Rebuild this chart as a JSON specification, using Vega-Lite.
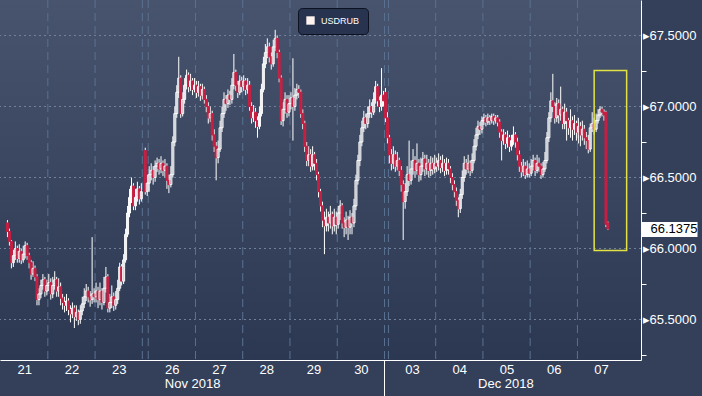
{
"$schema": "https://vega.github.io/schema/vega-lite/v6.json",
"width": 641, "height": 360,
"autosize": {"type": "none"},
"padding": {"left": 0, "top": 0, "right": 61, "bottom": 36},
"background": "#34405a",
"config": {
 "view": {"stroke": null},
 "axis": {"labelFont": "Liberation Sans", "labelFontSize": 13, "labelColor": "#ffffff", "title": null, "domainColor": "#ffffff", "domainWidth": 1, "grid": false}
},
"datasets": {
 "candles": [
{"t":3,"o":66.18,"h":66.2,"l":66.08,"c":66.12},
{"t":4,"o":66.12,"h":66.14,"l":66.02,"c":66.05},
{"t":5,"o":66.05,"h":66.06,"l":65.86,"c":65.9},
{"t":6,"o":65.9,"h":65.99,"l":65.87,"c":65.95},
{"t":7,"o":65.95,"h":66.05,"l":65.92,"c":66.0},
{"t":8,"o":66.0,"h":66.02,"l":65.9,"c":65.93},
{"t":9,"o":65.93,"h":66.03,"l":65.9,"c":65.98},
{"t":10,"o":65.98,"h":66.0,"l":65.89,"c":65.92},
{"t":11,"o":65.92,"h":66.02,"l":65.9,"c":65.96},
{"t":12,"o":65.96,"h":66.05,"l":65.93,"c":66.02},
{"t":13,"o":66.02,"h":66.04,"l":65.92,"c":65.95},
{"t":14,"o":65.95,"h":65.97,"l":65.86,"c":65.9},
{"t":15,"o":65.9,"h":65.92,"l":65.78,"c":65.82},
{"t":16,"o":65.82,"h":65.91,"l":65.8,"c":65.86},
{"t":17,"o":65.86,"h":65.88,"l":65.77,"c":65.8},
{"t":18,"o":65.8,"h":65.82,"l":65.6,"c":65.64},
{"t":19,"o":65.64,"h":65.72,"l":65.6,"c":65.68},
{"t":20,"o":65.68,"h":65.78,"l":65.65,"c":65.74},
{"t":21,"o":65.74,"h":65.82,"l":65.71,"c":65.78},
{"t":22,"o":65.78,"h":65.8,"l":65.66,"c":65.7},
{"t":23,"o":65.7,"h":65.78,"l":65.67,"c":65.74},
{"t":24,"o":65.74,"h":65.82,"l":65.7,"c":65.76},
{"t":25,"o":65.76,"h":65.79,"l":65.64,"c":65.68},
{"t":26,"o":65.68,"h":65.8,"l":65.65,"c":65.74},
{"t":27,"o":65.74,"h":65.84,"l":65.71,"c":65.78},
{"t":28,"o":65.78,"h":65.8,"l":65.66,"c":65.7},
{"t":29,"o":65.7,"h":65.79,"l":65.66,"c":65.73},
{"t":30,"o":65.73,"h":65.76,"l":65.6,"c":65.65},
{"t":31,"o":65.65,"h":65.68,"l":65.57,"c":65.62},
{"t":32,"o":65.62,"h":65.66,"l":65.55,"c":65.6},
{"t":33,"o":65.6,"h":65.68,"l":65.56,"c":65.63},
{"t":34,"o":65.63,"h":65.65,"l":65.53,"c":65.57},
{"t":35,"o":65.57,"h":65.6,"l":65.48,"c":65.54},
{"t":36,"o":65.54,"h":65.62,"l":65.51,"c":65.58},
{"t":37,"o":65.58,"h":65.6,"l":65.44,"c":65.52},
{"t":38,"o":65.52,"h":65.6,"l":65.49,"c":65.55},
{"t":39,"o":65.55,"h":65.57,"l":65.46,"c":65.5},
{"t":40,"o":65.5,"h":65.6,"l":65.47,"c":65.56},
{"t":41,"o":65.56,"h":65.66,"l":65.53,"c":65.61},
{"t":42,"o":65.61,"h":65.72,"l":65.58,"c":65.66},
{"t":43,"o":65.66,"h":65.75,"l":65.63,"c":65.7},
{"t":44,"o":65.7,"h":65.73,"l":65.62,"c":65.66},
{"t":45,"o":65.66,"h":65.7,"l":65.59,"c":65.64},
{"t":46,"o":65.64,"h":66.08,"l":65.61,"c":65.68},
{"t":47,"o":65.68,"h":65.72,"l":65.62,"c":65.66},
{"t":48,"o":65.66,"h":65.76,"l":65.62,"c":65.7},
{"t":49,"o":65.7,"h":65.73,"l":65.58,"c":65.64},
{"t":50,"o":65.64,"h":65.76,"l":65.6,"c":65.7},
{"t":51,"o":65.7,"h":65.72,"l":65.57,"c":65.62},
{"t":52,"o":65.62,"h":65.8,"l":65.6,"c":65.72},
{"t":53,"o":65.72,"h":65.87,"l":65.69,"c":65.8},
{"t":54,"o":65.8,"h":65.82,"l":65.55,"c":65.58},
{"t":55,"o":65.58,"h":65.68,"l":65.55,"c":65.62},
{"t":56,"o":65.62,"h":65.74,"l":65.58,"c":65.66},
{"t":57,"o":65.66,"h":65.69,"l":65.56,"c":65.6},
{"t":58,"o":65.6,"h":65.7,"l":65.57,"c":65.64},
{"t":59,"o":65.64,"h":65.78,"l":65.61,"c":65.72},
{"t":60,"o":65.72,"h":65.9,"l":65.7,"c":65.87},
{"t":61,"o":65.87,"h":65.89,"l":65.74,"c":65.77},
{"t":62,"o":65.77,"h":65.96,"l":65.75,"c":65.92},
{"t":63,"o":65.92,"h":66.14,"l":65.9,"c":66.1},
{"t":64,"o":66.1,"h":66.3,"l":66.08,"c":66.25},
{"t":65,"o":66.25,"h":66.42,"l":66.22,"c":66.36},
{"t":66,"o":66.36,"h":66.5,"l":66.32,"c":66.44},
{"t":67,"o":66.44,"h":66.46,"l":66.27,"c":66.3},
{"t":68,"o":66.3,"h":66.42,"l":66.27,"c":66.36},
{"t":69,"o":66.36,"h":66.47,"l":66.33,"c":66.42},
{"t":70,"o":66.42,"h":66.44,"l":66.31,"c":66.35},
{"t":71,"o":66.35,"h":66.46,"l":66.33,"c":66.4},
{"t":73,"o":66.69,"h":66.71,"l":66.38,"c":66.4},
{"t":74,"o":66.4,"h":66.52,"l":66.37,"c":66.46},
{"t":75,"o":66.46,"h":66.58,"l":66.4,"c":66.52},
{"t":76,"o":66.52,"h":66.6,"l":66.48,"c":66.55},
{"t":77,"o":66.55,"h":66.58,"l":66.45,"c":66.5},
{"t":78,"o":66.5,"h":66.62,"l":66.47,"c":66.58},
{"t":79,"o":66.58,"h":66.64,"l":66.54,"c":66.6},
{"t":80,"o":66.6,"h":66.63,"l":66.52,"c":66.56},
{"t":81,"o":66.56,"h":66.65,"l":66.53,"c":66.6},
{"t":82,"o":66.6,"h":66.62,"l":66.51,"c":66.55},
{"t":83,"o":66.55,"h":66.63,"l":66.5,"c":66.58},
{"t":84,"o":66.58,"h":66.6,"l":66.42,"c":66.48},
{"t":85,"o":66.48,"h":66.52,"l":66.39,"c":66.45},
{"t":86,"o":66.45,"h":66.58,"l":66.43,"c":66.52},
{"t":87,"o":66.52,"h":66.79,"l":66.5,"c":66.75},
{"t":88,"o":66.75,"h":67.0,"l":66.72,"c":66.95},
{"t":89,"o":66.95,"h":67.15,"l":66.92,"c":67.1},
{"t":90,"o":67.1,"h":67.35,"l":67.06,"c":67.2},
{"t":91,"o":67.2,"h":67.22,"l":66.92,"c":66.95},
{"t":92,"o":66.95,"h":67.1,"l":66.93,"c":67.05},
{"t":93,"o":67.05,"h":67.2,"l":67.02,"c":67.15},
{"t":94,"o":67.15,"h":67.26,"l":67.12,"c":67.22},
{"t":95,"o":67.22,"h":67.24,"l":67.1,"c":67.14},
{"t":96,"o":67.14,"h":67.23,"l":67.11,"c":67.18},
{"t":97,"o":67.18,"h":67.2,"l":67.08,"c":67.12},
{"t":98,"o":67.12,"h":67.2,"l":67.1,"c":67.15},
{"t":99,"o":67.15,"h":67.18,"l":67.06,"c":67.1},
{"t":100,"o":67.1,"h":67.18,"l":67.07,"c":67.14},
{"t":101,"o":67.14,"h":67.16,"l":67.04,"c":67.08},
{"t":102,"o":67.08,"h":67.16,"l":67.05,"c":67.12},
{"t":103,"o":67.12,"h":67.14,"l":67.02,"c":67.05},
{"t":104,"o":67.05,"h":67.08,"l":66.96,"c":67.0},
{"t":105,"o":67.0,"h":67.03,"l":66.88,"c":66.92},
{"t":106,"o":66.92,"h":67.0,"l":66.89,"c":66.95},
{"t":107,"o":66.95,"h":66.97,"l":66.76,"c":66.8},
{"t":108,"o":66.8,"h":66.84,"l":66.68,"c":66.72},
{"t":109,"o":66.72,"h":66.75,"l":66.48,"c":66.64},
{"t":110,"o":66.64,"h":66.76,"l":66.6,"c":66.7},
{"t":111,"o":66.7,"h":66.9,"l":66.68,"c":66.85},
{"t":112,"o":66.85,"h":67.0,"l":66.82,"c":66.95},
{"t":113,"o":66.95,"h":67.1,"l":66.92,"c":67.05},
{"t":114,"o":67.05,"h":67.08,"l":66.97,"c":67.02},
{"t":115,"o":67.02,"h":67.12,"l":66.99,"c":67.08},
{"t":116,"o":67.08,"h":67.11,"l":67.01,"c":67.05},
{"t":117,"o":67.05,"h":67.2,"l":67.02,"c":67.15},
{"t":118,"o":67.15,"h":67.37,"l":67.12,"c":67.24},
{"t":119,"o":67.24,"h":67.26,"l":67.11,"c":67.15},
{"t":120,"o":67.15,"h":67.18,"l":67.06,"c":67.1},
{"t":121,"o":67.1,"h":67.22,"l":67.08,"c":67.18},
{"t":122,"o":67.18,"h":67.21,"l":67.1,"c":67.14},
{"t":123,"o":67.14,"h":67.22,"l":67.11,"c":67.18},
{"t":124,"o":67.18,"h":67.2,"l":67.08,"c":67.12},
{"t":125,"o":67.12,"h":67.2,"l":67.09,"c":67.15},
{"t":126,"o":67.15,"h":67.18,"l":66.97,"c":67.0},
{"t":127,"o":67.0,"h":67.03,"l":66.88,"c":66.92},
{"t":128,"o":66.92,"h":67.01,"l":66.89,"c":66.96},
{"t":129,"o":66.96,"h":66.99,"l":66.85,"c":66.9},
{"t":130,"o":66.9,"h":66.93,"l":66.78,"c":66.86},
{"t":131,"o":66.86,"h":67.0,"l":66.84,"c":66.95},
{"t":132,"o":66.95,"h":67.16,"l":66.93,"c":67.12},
{"t":133,"o":67.12,"h":67.35,"l":67.1,"c":67.3},
{"t":134,"o":67.3,"h":67.44,"l":67.27,"c":67.38},
{"t":135,"o":67.38,"h":67.48,"l":67.34,"c":67.42},
{"t":136,"o":67.42,"h":67.45,"l":67.31,"c":67.35},
{"t":137,"o":67.35,"h":67.38,"l":67.26,"c":67.3},
{"t":138,"o":67.3,"h":67.47,"l":67.28,"c":67.42},
{"t":139,"o":67.42,"h":67.54,"l":67.39,"c":67.48},
{"t":140,"o":67.48,"h":67.5,"l":67.34,"c":67.38},
{"t":141,"o":67.38,"h":67.4,"l":67.17,"c":67.2},
{"t":142,"o":67.2,"h":67.22,"l":66.87,"c":66.9},
{"t":143,"o":66.9,"h":67.03,"l":66.86,"c":66.98},
{"t":144,"o":66.98,"h":67.1,"l":66.95,"c":67.05},
{"t":145,"o":67.05,"h":67.08,"l":66.92,"c":66.96},
{"t":146,"o":66.96,"h":67.08,"l":66.93,"c":67.02},
{"t":147,"o":67.02,"h":67.1,"l":66.98,"c":67.06},
{"t":148,"o":67.06,"h":67.34,"l":66.76,"c":67.0},
{"t":149,"o":67.0,"h":67.13,"l":66.97,"c":67.08},
{"t":150,"o":67.08,"h":67.16,"l":67.05,"c":67.12},
{"t":151,"o":67.12,"h":67.15,"l":67.06,"c":67.1},
{"t":152,"o":67.1,"h":67.12,"l":66.92,"c":66.95},
{"t":153,"o":66.95,"h":66.98,"l":66.84,"c":66.88},
{"t":154,"o":66.88,"h":66.9,"l":66.68,"c":66.72},
{"t":155,"o":66.72,"h":66.75,"l":66.58,"c":66.62},
{"t":156,"o":66.62,"h":66.72,"l":66.58,"c":66.66},
{"t":157,"o":66.66,"h":66.7,"l":66.54,"c":66.58},
{"t":158,"o":66.58,"h":66.72,"l":66.55,"c":66.66},
{"t":159,"o":66.66,"h":66.68,"l":66.55,"c":66.6},
{"t":160,"o":66.6,"h":66.63,"l":66.48,"c":66.52},
{"t":161,"o":66.52,"h":66.54,"l":66.36,"c":66.4},
{"t":162,"o":66.4,"h":66.42,"l":66.26,"c":66.3},
{"t":163,"o":66.3,"h":66.33,"l":66.15,"c":66.2},
{"t":164,"o":66.2,"h":66.26,"l":65.96,"c":66.16},
{"t":165,"o":66.16,"h":66.28,"l":66.12,"c":66.22},
{"t":166,"o":66.22,"h":66.26,"l":66.12,"c":66.18},
{"t":167,"o":66.18,"h":66.3,"l":66.14,"c":66.24},
{"t":168,"o":66.24,"h":66.26,"l":66.1,"c":66.16},
{"t":169,"o":66.16,"h":66.28,"l":66.12,"c":66.22},
{"t":170,"o":66.22,"h":66.26,"l":66.1,"c":66.17},
{"t":171,"o":66.17,"h":66.3,"l":66.14,"c":66.25},
{"t":172,"o":66.25,"h":66.34,"l":66.2,"c":66.3},
{"t":173,"o":66.3,"h":66.32,"l":66.14,"c":66.18},
{"t":174,"o":66.18,"h":66.22,"l":66.08,"c":66.15},
{"t":175,"o":66.15,"h":66.26,"l":66.1,"c":66.2},
{"t":176,"o":66.2,"h":66.23,"l":66.06,"c":66.15},
{"t":177,"o":66.15,"h":66.27,"l":66.1,"c":66.22},
{"t":178,"o":66.22,"h":66.25,"l":66.1,"c":66.18},
{"t":179,"o":66.18,"h":66.35,"l":66.15,"c":66.3},
{"t":180,"o":66.3,"h":66.52,"l":66.27,"c":66.48},
{"t":181,"o":66.48,"h":66.66,"l":66.45,"c":66.62},
{"t":182,"o":66.62,"h":66.8,"l":66.58,"c":66.75},
{"t":183,"o":66.75,"h":66.9,"l":66.72,"c":66.85},
{"t":184,"o":66.85,"h":66.97,"l":66.82,"c":66.92},
{"t":185,"o":66.92,"h":66.95,"l":66.84,"c":66.88},
{"t":186,"o":66.88,"h":67.0,"l":66.85,"c":66.95},
{"t":187,"o":66.95,"h":67.05,"l":66.92,"c":67.0},
{"t":188,"o":67.0,"h":67.03,"l":66.92,"c":66.96},
{"t":189,"o":66.96,"h":67.1,"l":66.94,"c":67.05},
{"t":190,"o":67.05,"h":67.18,"l":67.02,"c":67.14},
{"t":191,"o":67.14,"h":67.16,"l":67.0,"c":67.04},
{"t":192,"o":67.04,"h":67.07,"l":66.96,"c":67.0},
{"t":193,"o":67.0,"h":67.27,"l":66.97,"c":67.08},
{"t":194,"o":67.08,"h":67.11,"l":67.0,"c":67.04},
{"t":195,"o":67.1,"h":67.13,"l":66.89,"c":66.92},
{"t":196,"o":66.92,"h":66.96,"l":66.74,"c":66.78},
{"t":197,"o":66.78,"h":66.8,"l":66.6,"c":66.66},
{"t":198,"o":66.66,"h":66.7,"l":66.55,"c":66.6},
{"t":199,"o":66.6,"h":66.72,"l":66.56,"c":66.66},
{"t":200,"o":66.66,"h":66.69,"l":66.54,"c":66.58},
{"t":201,"o":66.58,"h":66.68,"l":66.55,"c":66.62},
{"t":202,"o":66.62,"h":66.64,"l":66.51,"c":66.55},
{"t":203,"o":66.55,"h":66.58,"l":66.4,"c":66.45},
{"t":204,"o":66.45,"h":66.48,"l":66.06,"c":66.33},
{"t":205,"o":66.33,"h":66.46,"l":66.28,"c":66.4},
{"t":206,"o":66.4,"h":66.58,"l":66.37,"c":66.52},
{"t":207,"o":66.52,"h":66.76,"l":66.44,"c":66.48},
{"t":208,"o":66.48,"h":66.62,"l":66.45,"c":66.56},
{"t":209,"o":66.56,"h":66.7,"l":66.52,"c":66.62},
{"t":210,"o":66.62,"h":66.65,"l":66.5,"c":66.55},
{"t":211,"o":66.55,"h":66.74,"l":66.52,"c":66.6},
{"t":212,"o":66.6,"h":66.63,"l":66.47,"c":66.52},
{"t":213,"o":66.52,"h":66.64,"l":66.48,"c":66.58},
{"t":214,"o":66.58,"h":66.68,"l":66.54,"c":66.63},
{"t":215,"o":66.63,"h":66.66,"l":66.51,"c":66.56},
{"t":216,"o":66.56,"h":66.66,"l":66.52,"c":66.6},
{"t":217,"o":66.6,"h":66.63,"l":66.5,"c":66.55},
{"t":218,"o":66.55,"h":66.65,"l":66.51,"c":66.6},
{"t":219,"o":66.6,"h":66.64,"l":66.52,"c":66.56},
{"t":220,"o":66.56,"h":66.66,"l":66.53,"c":66.6},
{"t":221,"o":66.6,"h":66.64,"l":66.54,"c":66.58},
{"t":222,"o":66.58,"h":66.67,"l":66.55,"c":66.62},
{"t":223,"o":66.62,"h":66.65,"l":66.53,"c":66.57},
{"t":224,"o":66.57,"h":66.66,"l":66.54,"c":66.6},
{"t":225,"o":66.6,"h":66.63,"l":66.51,"c":66.55},
{"t":226,"o":66.55,"h":66.64,"l":66.52,"c":66.6},
{"t":227,"o":66.6,"h":66.63,"l":66.52,"c":66.56},
{"t":228,"o":66.56,"h":66.58,"l":66.46,"c":66.5},
{"t":229,"o":66.5,"h":66.53,"l":66.41,"c":66.45},
{"t":230,"o":66.45,"h":66.48,"l":66.36,"c":66.4},
{"t":231,"o":66.4,"h":66.43,"l":66.3,"c":66.34},
{"t":232,"o":66.34,"h":66.36,"l":66.22,"c":66.28},
{"t":233,"o":66.28,"h":66.42,"l":66.25,"c":66.38},
{"t":234,"o":66.38,"h":66.55,"l":66.35,"c":66.5},
{"t":235,"o":66.5,"h":66.65,"l":66.47,"c":66.6},
{"t":236,"o":66.6,"h":66.63,"l":66.52,"c":66.56},
{"t":237,"o":66.56,"h":66.66,"l":66.53,"c":66.6},
{"t":238,"o":66.6,"h":66.62,"l":66.51,"c":66.55},
{"t":239,"o":66.55,"h":66.67,"l":66.53,"c":66.62},
{"t":240,"o":66.62,"h":66.77,"l":66.6,"c":66.72},
{"t":241,"o":66.72,"h":66.85,"l":66.69,"c":66.8},
{"t":242,"o":66.8,"h":66.9,"l":66.77,"c":66.86},
{"t":243,"o":66.86,"h":66.89,"l":66.8,"c":66.84},
{"t":244,"o":66.84,"h":66.93,"l":66.81,"c":66.9},
{"t":245,"o":66.9,"h":66.95,"l":66.87,"c":66.92},
{"t":246,"o":66.92,"h":66.94,"l":66.86,"c":66.89},
{"t":247,"o":66.89,"h":66.95,"l":66.87,"c":66.92},
{"t":248,"o":66.92,"h":66.94,"l":66.87,"c":66.9},
{"t":249,"o":66.9,"h":66.95,"l":66.88,"c":66.93},
{"t":250,"o":66.93,"h":66.95,"l":66.87,"c":66.9},
{"t":251,"o":66.9,"h":66.94,"l":66.88,"c":66.92},
{"t":252,"o":66.92,"h":66.94,"l":66.86,"c":66.89},
{"t":253,"o":66.89,"h":66.91,"l":66.78,"c":66.82},
{"t":254,"o":66.82,"h":66.84,"l":66.62,"c":66.76},
{"t":255,"o":66.76,"h":66.84,"l":66.73,"c":66.8},
{"t":256,"o":66.8,"h":66.82,"l":66.7,"c":66.74},
{"t":257,"o":66.74,"h":66.83,"l":66.71,"c":66.78},
{"t":258,"o":66.78,"h":66.8,"l":66.68,"c":66.72},
{"t":259,"o":66.72,"h":66.8,"l":66.69,"c":66.76},
{"t":260,"o":66.76,"h":66.86,"l":66.73,"c":66.8},
{"t":261,"o":66.8,"h":66.82,"l":66.71,"c":66.75},
{"t":262,"o":66.75,"h":66.78,"l":66.62,"c":66.66},
{"t":263,"o":66.66,"h":66.69,"l":66.54,"c":66.58},
{"t":264,"o":66.58,"h":66.61,"l":66.5,"c":66.54},
{"t":265,"o":66.54,"h":66.63,"l":66.51,"c":66.58},
{"t":266,"o":66.58,"h":66.61,"l":66.49,"c":66.52},
{"t":267,"o":66.52,"h":66.62,"l":66.5,"c":66.56},
{"t":268,"o":66.56,"h":66.6,"l":66.5,"c":66.53},
{"t":269,"o":66.53,"h":66.63,"l":66.51,"c":66.58},
{"t":270,"o":66.58,"h":66.66,"l":66.55,"c":66.62},
{"t":271,"o":66.62,"h":66.64,"l":66.51,"c":66.55},
{"t":272,"o":66.55,"h":66.66,"l":66.53,"c":66.6},
{"t":273,"o":66.6,"h":66.64,"l":66.54,"c":66.58},
{"t":274,"o":66.58,"h":66.6,"l":66.49,"c":66.52},
{"t":275,"o":66.52,"h":66.61,"l":66.5,"c":66.56},
{"t":276,"o":66.56,"h":66.68,"l":66.54,"c":66.62},
{"t":277,"o":66.62,"h":66.82,"l":66.6,"c":66.78},
{"t":278,"o":66.78,"h":66.96,"l":66.75,"c":66.92},
{"t":279,"o":66.92,"h":67.1,"l":66.89,"c":67.04},
{"t":280,"o":67.04,"h":67.23,"l":66.96,"c":67.0},
{"t":281,"o":67.0,"h":67.03,"l":66.88,"c":66.92},
{"t":282,"o":66.92,"h":67.06,"l":66.89,"c":67.02},
{"t":283,"o":67.02,"h":67.05,"l":66.88,"c":66.94},
{"t":284,"o":66.94,"h":67.14,"l":66.9,"c":66.98},
{"t":285,"o":66.98,"h":67.0,"l":66.84,"c":66.88},
{"t":286,"o":66.88,"h":67.02,"l":66.84,"c":66.96},
{"t":287,"o":66.96,"h":66.99,"l":66.76,"c":66.9},
{"t":288,"o":66.9,"h":66.92,"l":66.8,"c":66.85},
{"t":289,"o":66.85,"h":66.98,"l":66.78,"c":66.9},
{"t":290,"o":66.9,"h":66.93,"l":66.76,"c":66.84},
{"t":291,"o":66.84,"h":66.94,"l":66.8,"c":66.88},
{"t":292,"o":66.88,"h":66.9,"l":66.76,"c":66.82},
{"t":293,"o":66.82,"h":66.92,"l":66.74,"c":66.86},
{"t":294,"o":66.86,"h":66.89,"l":66.72,"c":66.8},
{"t":295,"o":66.8,"h":66.9,"l":66.76,"c":66.84},
{"t":296,"o":66.84,"h":66.87,"l":66.73,"c":66.78},
{"t":297,"o":66.78,"h":66.82,"l":66.7,"c":66.76},
{"t":298,"o":66.76,"h":66.8,"l":66.67,"c":66.7},
{"t":299,"o":66.7,"h":66.88,"l":66.68,"c":66.85},
{"t":300,"o":66.85,"h":66.96,"l":66.82,"c":66.88},
{"t":301,"o":66.88,"h":66.92,"l":66.8,"c":66.84},
{"t":302,"o":66.84,"h":66.95,"l":66.82,"c":66.9},
{"t":303,"o":66.9,"h":66.98,"l":66.88,"c":66.94},
{"t":304,"o":66.94,"h":67.0,"l":66.92,"c":66.98},
{"t":305,"o":66.98,"h":67.0,"l":66.93,"c":66.96},
{"t":306,"o":66.96,"h":66.98,"l":66.9,"c":66.94},
{"t":307,"o":66.96,"h":66.97,"l":66.15,"c":66.17},
{"t":308,"o":66.18,"h":66.19,"l":66.13,"c":66.1375}
 ],
 "bounds": [{"b":23.5},{"b":47.5},{"b":71.5},{"b":74.5},{"b":98.5},{"b":122.5},{"b":146.5},{"b":170.5},{"b":194.5},{"b":196.5},{"b":220.5},{"b":244.5},{"b":268.5},{"b":292.5}],
 "levels": [{"v":65.5},{"v":66.0},{"v":66.5},{"v":67.0},{"v":67.5}],
 "box": [{"x1":301,"x2":317.5,"y1":67.253,"y2":65.986}],
 "series": [{"s":"USDRUB"}],
 "panel": [{"p":"plot"}]
},
"layer": [
 {
  "data": {"name": "panel"},
  "mark": {"type": "rect", "fill": {"gradient": "linear", "x1": 0, "y1": 0, "x2": 0, "y2": 1, "stops": [{"offset": 0, "color": "#48546d"}, {"offset": 1, "color": "#2c3852"}]}},
  "encoding": {}
 },
 {
  "data": {"name": "levels"},
  "mark": {"type": "rule", "color": "#718199", "strokeWidth": 1, "strokeDash": [2, 3]},
  "encoding": {
   "y": {"field": "v", "type": "quantitative", "scale": {"domain": [65.2148, 67.75], "nice": false, "zero": false}, "axis": null}
  }
 },
 {
  "data": {"name": "bounds"},
  "mark": {"type": "rule", "color": "#5a7191", "strokeWidth": 1, "strokeDash": [8, 5]},
  "encoding": {
   "x": {"field": "b", "type": "quantitative", "scale": {"domain": [1.75, 322.25], "nice": false, "zero": false},
    "axis": {"orient": "bottom", "values": [96.8, 255.9], "labelExpr": "datum.value < 200 ? 'Nov 2018' : 'Dec 2018'", "ticks": false, "domain": false, "labelPadding": 17, "labelFontSize": 13, "labelFlush": false, "labelOverlap": false, "title": null}}
  }
 },
 {
  "data": {"name": "candles"},
  "mark": {"type": "rule", "color": "#ffffff", "strokeWidth": 1},
  "encoding": {
   "x": {"field": "t", "type": "quantitative",
    "axis": {"orient": "bottom", "values": [11.5, 35.5, 59.5, 86.5, 110.5, 134.5, 158.5, 182.5, 194.5, 208.5, 232.5, 256.5, 280.5, 304.5],
     "labelExpr": "datum.value == 194.5 ? '' : ['21','22','23','26','27','28','29','30','03','04','05','06','07'][indexof([11.5,35.5,59.5,86.5,110.5,134.5,158.5,182.5,208.5,232.5,256.5,280.5,304.5], datum.value)]",
     "tickSize": 36, "tickColor": {"condition": {"test": "datum.value == 194.5", "value": "#ffffff"}, "value": "transparent"},
     "labelPadding": -33, "labelFlush": false, "labelOverlap": false, "domain": true, "title": null}},
   "y": {"field": "l", "type": "quantitative",
    "axis": {"orient": "right", "values": [65.25, 65.5, 65.75, 66, 66.1375, 66.25, 66.5, 66.75, 67, 67.25, 67.5],
     "labelExpr": "datum.value == 66.1375 ? '66.1375' : (datum.value % 0.5 == 0 ? '▸' + format(datum.value, '.4f') : '')",
     "grid": false,
     "tickSize": {"condition": {"test": "datum.value == 66.1375", "value": 56}, "value": 5},
     "tickWidth": {"condition": {"test": "datum.value == 66.1375", "value": 15}, "value": 1},
     "tickColor": {"condition": {"test": "datum.value % 0.5 == 0", "value": "transparent"}, "value": "#ffffff"},
     "labelColor": {"condition": {"test": "datum.value == 66.1375", "value": "#000000"}, "value": "#ffffff"},
     "labelPadding": {"condition": {"test": "datum.value == 66.1375", "value": -47}, "value": -4},
     "labelBaseline": "middle", "labelAlign": "left", "labelFlush": false, "labelOverlap": false, "title": null}},
   "y2": {"field": "h"}
  }
 },
 {
  "data": {"name": "candles"},
  "mark": {"type": "bar", "width": 2, "strokeWidth": 1},
  "encoding": {
   "x": {"field": "t", "type": "quantitative", "axis": null},
   "y": {"field": "o", "type": "quantitative", "axis": null},
   "y2": {"field": "c"},
   "fill": {"condition": {"test": "datum.c < datum.o", "value": "#c61f42"}, "value": "transparent"},
   "stroke": {"condition": {"test": "datum.c < datum.o", "value": "#c61f42"}, "value": "#ffffff"}
  }
 },
 {
  "data": {"name": "box"},
  "mark": {"type": "rect", "filled": false, "color": "#e2e245", "strokeWidth": 1.5},
  "encoding": {
   "x": {"field": "x1", "type": "quantitative", "axis": null},
   "x2": {"field": "x2"},
   "y": {"field": "y1", "type": "quantitative", "axis": null},
   "y2": {"field": "y2"}
  }
 },
 {
  "data": {"name": "series"},
  "mark": {"type": "square", "opacity": 0},
  "encoding": {
   "color": {"field": "s", "type": "nominal", "scale": {"range": ["#fff3f0"]},
    "legend": {"orient": "none", "legendX": 298, "legendY": 8, "title": null, "fillColor": "#283350", "strokeColor": "#0d1220", "cornerRadius": 4, "padding": 8, "labelColor": "#ffffff", "labelFontSize": 9, "labelFont": "Liberation Sans", "symbolType": "square", "symbolSize": 70, "symbolStrokeWidth": 0, "symbolOpacity": 1, "labelOffset": 6}}
  }
 }
],
"resolve": {"axis": {"x": "independent", "y": "independent"}}
}
